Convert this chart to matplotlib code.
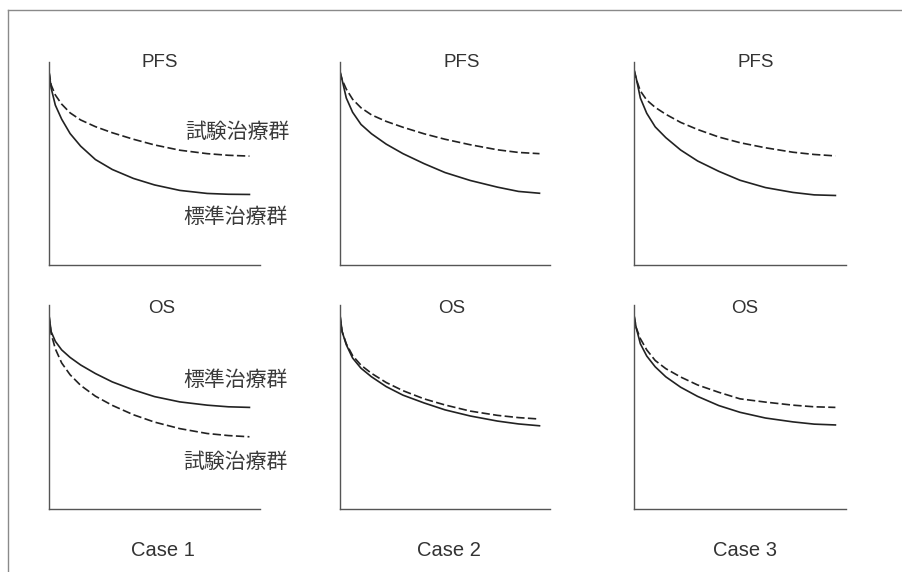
"""
PFS / OS survival-curve scenarios (Case 1-3), schematic
"""

import matplotlib
matplotlib.use("Agg")
import matplotlib.pyplot as plt
from matplotlib.lines import Line2D

plt.rcParams['font.family'] = ['Liberation Sans', 'Noto Sans CJK JP', 'DejaVu Sans']

# ======================================================
# 1. Data (axes normalised to 0-1)
# ======================================================
t = [0, 0.01, 0.03, 0.06, 0.1, 0.15, 0.22, 0.3, 0.4, 0.5, 0.62, 0.75, 0.85, 0.95]

cases = ["Case 1", "Case 2", "Case 3"]
endpoints = ["PFS", "OS"]

# standard arm (solid) / experimental arm (dashed)
pfs_std = [
    [0.95, 0.87, 0.785, 0.716, 0.645, 0.583, 0.517, 0.468, 0.424, 0.392, 0.365, 0.35, 0.346, 0.345],
    [0.95, 0.91, 0.82, 0.75, 0.69, 0.644, 0.593, 0.546, 0.497, 0.453, 0.414, 0.381, 0.36, 0.351],
    [0.96, 0.92, 0.82, 0.745, 0.678, 0.625, 0.564, 0.51, 0.459, 0.415, 0.379, 0.355, 0.343, 0.34],
]
pfs_exp = [
    [0.95, 0.885, 0.835, 0.79, 0.747, 0.712, 0.679, 0.649, 0.617, 0.589, 0.563, 0.546, 0.538, 0.534],
    [0.95, 0.91, 0.864, 0.814, 0.772, 0.737, 0.705, 0.676, 0.644, 0.617, 0.59, 0.565, 0.552, 0.546],
    [0.96, 0.915, 0.855, 0.81, 0.774, 0.74, 0.70, 0.665, 0.628, 0.60, 0.575, 0.553, 0.542, 0.535],
]
os_std = [
    [0.95, 0.87, 0.822, 0.78, 0.743, 0.706, 0.664, 0.623, 0.584, 0.551, 0.525, 0.509, 0.501, 0.498],
    [0.95, 0.87, 0.805, 0.74, 0.69, 0.648, 0.60, 0.558, 0.52, 0.486, 0.456, 0.431, 0.417, 0.408],
    [0.95, 0.89, 0.81, 0.75, 0.697, 0.648, 0.597, 0.552, 0.507, 0.474, 0.446, 0.427, 0.416, 0.412],
]
os_exp = [
    [0.95, 0.86, 0.785, 0.716, 0.658, 0.606, 0.553, 0.508, 0.462, 0.426, 0.394, 0.37, 0.36, 0.354],
    [0.95, 0.87, 0.81, 0.752, 0.705, 0.665, 0.62, 0.58, 0.54, 0.51, 0.48, 0.459, 0.448, 0.441],
    [0.95, 0.89, 0.835, 0.78, 0.728, 0.688, 0.647, 0.608, 0.572, 0.54, 0.524, 0.509, 0.501, 0.498],
]

label_std = "標準治療群"
label_exp = "試験治療群"

# ======================================================
# 2. Layout
# ======================================================
W, H = 902, 572
fig = plt.figure(figsize=(W / 100, H / 100), dpi=100)

col_left = [49, 340, 634]
col_width = [211, 210, 212]
row_bottom = [264.5, 509]
row_height = [203, 204]
title_x = [[0.526, 0.58, 0.575], [0.533, 0.533, 0.524]]

LINE_C = "#222222"
AXIS_C = "#555555"
TEXT_C = "#333333"

for r, ep in enumerate(endpoints):
    std = pfs_std if ep == "PFS" else os_std
    exp = pfs_exp if ep == "PFS" else os_exp
    for c in range(3):
        ax = fig.add_axes([col_left[c] / W, 1 - row_bottom[r] / H,
                           col_width[c] / W, row_height[r] / H])
        ax.plot(t, std[c], color=LINE_C, lw=1.2)
        ax.plot(t, exp[c], color=LINE_C, lw=1.2, dashes=(5, 2))
        ax.set_xlim(0, 1)
        ax.set_ylim(0, 1)
        ax.set_xticks([])
        ax.set_yticks([])
        for s in ["top", "right"]:
            ax.spines[s].set_visible(False)
        for s in ["left", "bottom"]:
            ax.spines[s].set_color(AXIS_C)
            ax.spines[s].set_linewidth(1.0)
        ax.text(title_x[r][c], 0.995 if r == 0 else 0.985, ep, transform=ax.transAxes,
                ha="center", va="center", fontsize=13.5, color=TEXT_C)

        if c == 0:
            jp = dict(transform=ax.transAxes, ha="left", va="center",
                      fontsize=15, color="#3a3a3a", family=["Noto Sans CJK JP"])
            if r == 0:
                ax.text(0.645, 0.655, label_exp, **jp)
                ax.text(0.635, 0.236, label_std, **jp)
            else:
                ax.text(0.635, 0.632, label_std, **jp)
                ax.text(0.635, 0.23, label_exp, **jp)

# case labels
case_x = [163, 449, 745]
for x, name in zip(case_x, cases):
    fig.text(x / W, 1 - 550 / H, name, ha="center", va="center",
             fontsize=14.5, color=TEXT_C)

# outer frame (top and left edges visible)
fig.add_artist(Line2D([8 / W, 1], [1 - 10 / H, 1 - 10 / H], color="#8a8a8a", lw=1.0))
fig.add_artist(Line2D([8 / W, 8 / W], [0, 1 - 10 / H], color="#8a8a8a", lw=1.0))

plt.savefig("out.png", dpi=100)
plt.close()
